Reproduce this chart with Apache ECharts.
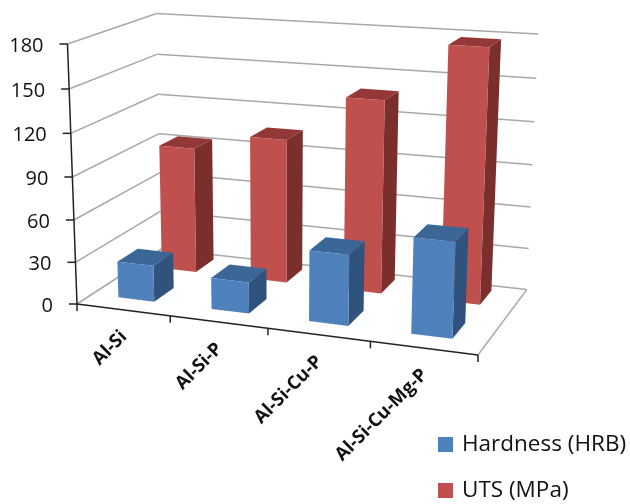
<!DOCTYPE html>
<html>
<head>
<meta charset="utf-8">
<style>
  html, body { margin: 0; padding: 0; background: #fff; }
  #chart { width: 630px; height: 504px; }
</style>
<script src="https://cdn.jsdelivr.net/npm/echarts@6/dist/echarts.min.js"></script>
</head>
<body>
<div id="chart"></div>
<script>
const categories = ["Al-Si", "Al-Si-P", "Al-Si-Cu-P", "Al-Si-Cu-Mg-P"]
const hardness = [26, 22, 49, 65]
const uts = [92, 104, 137, 177]
const yTicks = [0, 30, 60, 90, 120, 150, 180]

const FONT = "'Open Sans', sans-serif"

// hidden grid, only used for the scales
const grid = { left: 50, top: 50, width: 400, height: 300 }

// corners of the 3d box on screen, w = perspective weight of each axis
const O = [77, 304]
const X = [478, 355]
const Y = [67.5, 44]
const Z = [161.5, 249]
const wx = 0.909
const wy = 0.955
const wz = 1.11

// x, y, z all in 0..1
const project = (x, y, z) => {
  const o = 1 - x - y - z
  const d = o + wx * x + wy * y + wz * z
  return [
    (o * O[0] + wx * x * X[0] + wy * y * Y[0] + wz * z * Z[0]) / d,
    (o * O[1] + wx * x * X[1] + wy * y * Y[1] + wz * z * Z[1]) / d
  ]
}

// data -> 0..1 through the chart's own axes
const toUnit = (api, cat, value) => {
  const c = api.coord([cat, value])
  return {
    x: (c[0] - grid.left) / grid.width,
    y: (grid.top + grid.height - c[1]) / grid.height,
    band: api.size([1, 0])[0] / grid.width
  }
}

const line = (a, b, color, width) => ({
  type: "line",
  shape: { x1: a[0], y1: a[1], x2: b[0], y2: b[1] },
  style: { stroke: color, lineWidth: width }
})

const poly = (points, color) => ({
  type: "polygon",
  shape: { points },
  style: { fill: color }
})

const makeBar = (z0, z1, colors) => (params, api) => {
  const u = toUnit(api, api.value(0), api.value(1))
  const left = u.x - u.band / 2 + u.band * 0.29
  const right = u.x - u.band / 2 + u.band * 0.68
  const p = (x, y, z) => project(x, y, z)
  return {
    type: "group",
    children: [
      poly([p(right, 0, z0), p(right, 0, z1), p(right, u.y, z1), p(right, u.y, z0)], colors.side),
      poly([p(left, u.y, z0), p(right, u.y, z0), p(right, u.y, z1), p(left, u.y, z1)], colors.top),
      poly([p(left, 0, z0), p(right, 0, z0), p(right, u.y, z0), p(left, u.y, z0)], colors.front)
    ]
  }
}

const renderWalls = (params, api) => {
  const u = toUnit(api, 0, api.value(1))
  return {
    type: "group",
    children: [
      line(project(0, u.y, 0), project(0, u.y, 1), "#a8a8a8", 1.5),
      line(project(0, u.y, 1), project(1, u.y, 1), "#a8a8a8", 1.5)
    ]
  }
}

const renderFloor = (params, api) => {
  return {
    type: "group",
    children: [
      line(project(1, 0, 0), project(1, 0, 1), "#a8a8a8", 1.5),
      line(project(0, 0, 0), project(0, 1, 0), "#222", 1.5),
      line(project(0, 0, 0), project(1, 0, 0), "#222", 1.5)
    ]
  }
}

const renderYTick = (params, api) => {
  const u = toUnit(api, 0, api.value(1))
  const p = project(0, u.y, 0)
  return {
    type: "group",
    children: [
      line([p[0] - 8, p[1]], p, "#222", 1.5),
      {
        type: "text",
        x: p[0] - 24,
        y: p[1] + 2,
        style: {
          text: String(api.value(1)),
          font: "20px " + FONT,
          fill: "#111",
          align: "right",
          verticalAlign: "middle"
        }
      }
    ]
  }
}

const renderXTick = (params, api) => {
  const cat = api.value(0)
  const u = toUnit(api, cat, 0)
  const a = project(u.x - u.band / 2, 0, 0)
  const mid = project(u.x, 0, 0)
  const children = [line(a, [a[0], a[1] + 7], "#222", 1.5)]
  if (cat === categories.length - 1) {
    const b = project(u.x + u.band / 2, 0, 0)
    children.push(line(b, [b[0], b[1] + 7], "#222", 1.5))
  }
  children.push({
    type: "text",
    x: mid[0] + 1,
    y: mid[1] + 24,
    rotation: Math.PI / 4,
    style: {
      text: categories[cat],
      font: "bold 18.5px " + FONT,
      fill: "#111",
      align: "right",
      verticalAlign: "middle"
    }
  })
  return { type: "group", children }
}

const option = {
  animation: false,
  backgroundColor: "#fff",
  grid: grid,
  xAxis: { type: "category", data: categories, show: false },
  yAxis: { type: "value", min: 0, max: 180, interval: 30, show: false },
  legend: {
    data: ["Hardness (HRB)", "UTS (MPa)"],
    orient: "vertical",
    left: 438,
    top: 433,
    padding: 0,
    icon: "rect",
    itemWidth: 15,
    itemHeight: 15,
    itemGap: 23,
    selectedMode: false,
    textStyle: { fontFamily: FONT, fontSize: 22.5, color: "#111", padding: [0, 0, 0, 4] }
  },
  series: [
    {
      name: "Hardness (HRB)",
      type: "custom",
      z: 5,
      itemStyle: { color: "#4f81bd" },
      renderItem: makeBar(0.165, 0.4, { front: "#4f81bd", top: "#3b6797", side: "#30537e" }),
      data: hardness.map((v, i) => [i, v])
    },
    {
      name: "UTS (MPa)",
      type: "custom",
      z: 4,
      itemStyle: { color: "#c0504d" },
      renderItem: makeBar(0.685, 0.92, { front: "#c0504d", top: "#933836", side: "#7b2f2d" }),
      data: uts.map((v, i) => [i, v])
    },
    { type: "custom", z: 1, renderItem: renderWalls, data: yTicks.map((v) => [0, v]) },
    { type: "custom", z: 2, renderItem: renderFloor, data: [[0, 0]] },
    { type: "custom", z: 3, renderItem: renderYTick, data: yTicks.map((v) => [0, v]) },
    { type: "custom", z: 3, renderItem: renderXTick, data: categories.map((c, i) => [i, 0]) }
  ]
}

const chart = echarts.init(document.getElementById("chart"))
chart.setOption(option)
</script>
</body>
</html>
